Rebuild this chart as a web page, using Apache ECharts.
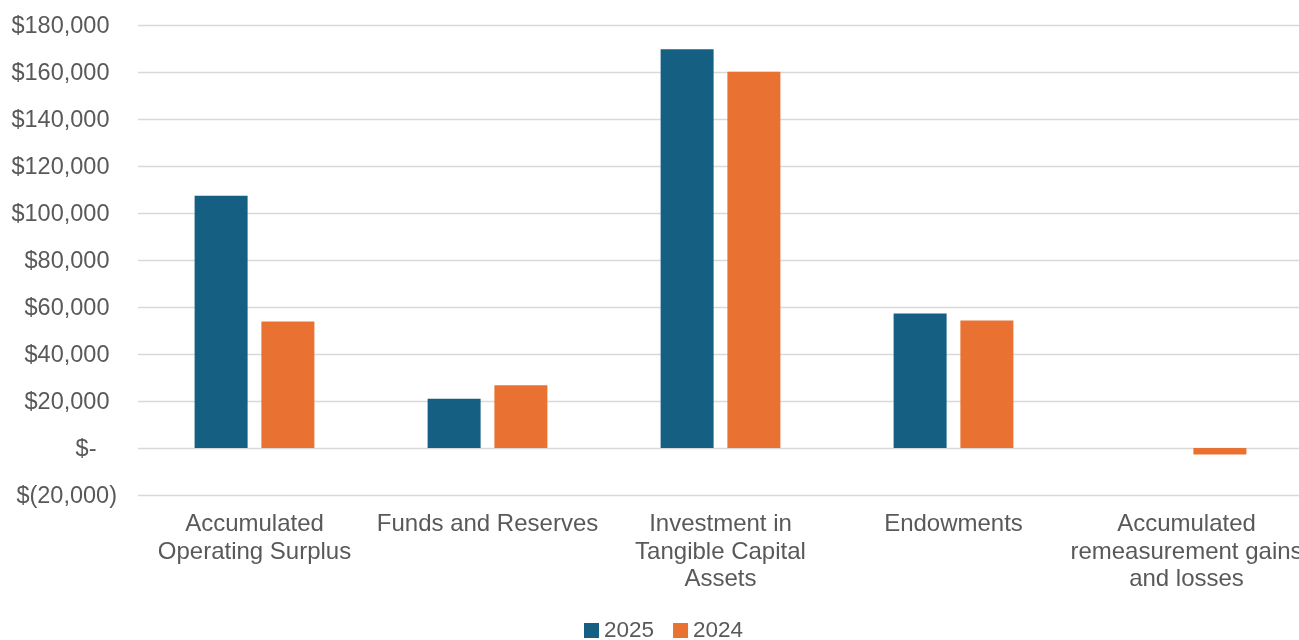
<!DOCTYPE html>
<html>
<head>
<meta charset="utf-8">
<script src="https://cdn.jsdelivr.net/npm/echarts@6/dist/echarts.min.js"></script>
<style>
html,body{margin:0;padding:0;background:#fff;}
#chart{width:1299px;height:640px;}
</style>
</head>
<body>
<div id="chart"></div>
<script>
const categories = [
  "Accumulated\nOperating Surplus",
  "Funds and Reserves",
  "Investment in\nTangible Capital\nAssets",
  "Endowments",
  "Accumulated\nremeasurement gains\nand losses"
];
const seriesNames = ["2025", "2024"];
const values2025 = [107300, 21000, 169700, 57200, 0];
const values2024 = [53800, 26700, 160100, 54300, -2800];
const yMin = -20000, yMax = 180000, yStep = 20000;

const FONT = "'Liberation Sans', Arial, sans-serif";
const TXT = "#595959";

function fmt(v) {
  if (v === 0) return "{z|$-}";
  const s = Math.abs(v).toLocaleString("en-US");
  if (v < 0) return "{n|$(" + s + ")}";
  return "{p|$" + s + "}";
}

const chart = echarts.init(document.getElementById("chart"), null, {renderer: "canvas"});
chart.setOption({
  animation: false,
  backgroundColor: "#fff",
  textStyle: {fontFamily: FONT},
  grid: {left: 138, top: 25, bottom: 145, width: 1165, containLabel: false, outerBoundsMode: "none"},
  legend: {
    data: seriesNames,
    top: 619,
    left: 584,
    padding: 0,
    itemWidth: 15,
    itemHeight: 15,
    itemGap: 19,
    icon: "rect",
    textStyle: {color: TXT, fontSize: 22.5, fontFamily: FONT}
  },
  xAxis: {
    type: "category",
    data: categories,
    position: "bottom",
    axisLine: {show: false, onZero: false},
    axisTick: {show: false},
    axisLabel: {
      interval: 0,
      color: TXT,
      fontSize: 24,
      lineHeight: 27.5,
      fontFamily: FONT,
      margin: 16,
      align: "center"
    },
    splitLine: {show: false}
  },
  yAxis: {
    type: "value",
    min: yMin,
    max: yMax,
    interval: yStep,
    axisLine: {show: false},
    axisTick: {show: false},
    splitLine: {lineStyle: {color: "#D9D9D9", width: 1.3}},
    axisLabel: {
      margin: 21,
      formatter: fmt,
      rich: {
        p: {color: TXT, fontSize: 23.5, fontFamily: FONT, padding: [4, 7.5, 0, 0]},
        z: {color: TXT, fontSize: 23.5, fontFamily: FONT, padding: [4, 20.5, 0, 0]},
        n: {color: TXT, fontSize: 23.5, fontFamily: FONT, padding: [4, 0, 0, 0]}
      }
    }
  },
  series: [
    {
      name: seriesNames[0],
      type: "bar",
      data: values2025,
      barWidth: 53,
      barGap: "26%",
      itemStyle: {color: "#156082"}
    },
    {
      name: seriesNames[1],
      type: "bar",
      data: values2024,
      barWidth: 53,
      barGap: "26%",
      itemStyle: {color: "#E97132"}
    }
  ]
});
</script>
</body>
</html>
